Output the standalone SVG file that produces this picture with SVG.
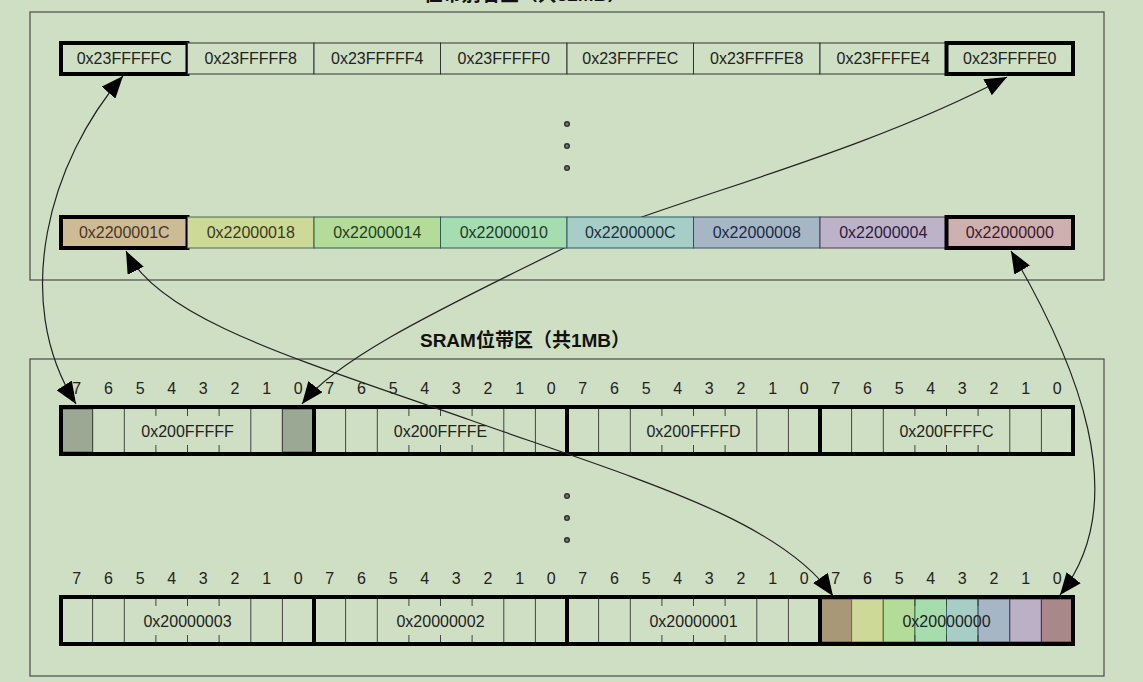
<svg xmlns="http://www.w3.org/2000/svg" width="1143" height="682" viewBox="0 0 1143 682">
<defs>
<style>
.bg{fill:#cfdfc4}
.cluster{fill:#cfdfc4;stroke:#4a4a4a;stroke-width:1.2}
.title{font-family:"Liberation Sans","Noto Sans CJK SC",sans-serif;font-size:19px;font-weight:bold;fill:#111;text-anchor:middle}
.lbl{font-family:"Liberation Sans",Arial,sans-serif;font-size:16px;fill:#222;text-anchor:middle}
.cell{fill:#cfdfc4;stroke:#333;stroke-width:1}
.thick{fill:none;stroke:#000;stroke-width:4}
.bitline{stroke:#444;stroke-width:1}
.edge{fill:none;stroke:#222;stroke-width:1.2}
.dot{fill:#777;stroke:#333;stroke-width:1.5}
</style>
<marker id="ah" markerUnits="userSpaceOnUse" markerWidth="22" markerHeight="18" refX="22" refY="9" orient="auto-start-reverse">
<path d="M0,0 L22,9 L0,18 z" fill="#000"/>
</marker>
</defs>
<rect class="bg" x="0" y="0" width="1143" height="682"/>

<g id="cluster-alias">
<rect class="cluster" x="30" y="12" width="1074" height="268"/>
<text class="title" x="525" y="1">位带别名区（共32MB）</text>
</g>
<g id="cluster-sram">
<rect class="cluster" x="30" y="359" width="1074" height="317"/>
<text class="title" x="525" y="347">SRAM位带区（共1MB）</text>
</g>

<g id="dots-top">
<circle class="dot" cx="567" cy="124" r="2.3"/>
<circle class="dot" cx="567" cy="146" r="2.3"/>
<circle class="dot" cx="567" cy="168" r="2.3"/>
</g>
<g id="dots-bottom">
<circle class="dot" cx="567" cy="496" r="2.3"/>
<circle class="dot" cx="567" cy="518" r="2.3"/>
<circle class="dot" cx="567" cy="540" r="2.3"/>
</g>

<!-- SRAM row 1 -->
<g id="bits-row1-labels" class="lbl">
<text x="76.8 108.4 140.1 171.7 203.3 234.9 266.6 298.2" y="394">76543210</text>
<text x="329.8 361.4 393.1 424.7 456.3 487.9 519.6 551.2" y="394">76543210</text>
<text x="582.8 614.4 646.1 677.7 709.3 740.9 772.6 804.2" y="394">76543210</text>
<text x="835.8 867.4 899.1 930.7 962.3 993.9 1025.6 1057.2" y="394">76543210</text>
</g>
<g id="byte-200FFFFF">
<rect x="61" y="409" width="31.6" height="43" fill="#9ba894" stroke="#555" stroke-width="1"/>
<rect x="282.4" y="409" width="31.6" height="43" fill="#9ba894" stroke="#555" stroke-width="1"/>
<path class="bitline" d="M92.6,409V452M124.3,409V452M250.8,409V452M282.4,409V452M155.9,409V416M187.5,409V416M219.1,409V416M155.9,445V452M187.5,445V452M219.1,445V452"/>
<text class="lbl" x="187.5" y="437">0x200FFFFF</text>
</g>
<g id="byte-200FFFFE">
<path class="bitline" d="M345.6,409V452M377.3,409V452M503.8,409V452M535.4,409V452M408.9,409V416M440.5,409V416M472.1,409V416M408.9,445V452M440.5,445V452M472.1,445V452"/>
<text class="lbl" x="440.5" y="437">0x200FFFFE</text>
</g>
<g id="byte-200FFFFD">
<path class="bitline" d="M598.6,409V452M630.3,409V452M756.8,409V452M788.4,409V452M661.9,409V416M693.5,409V416M725.1,409V416M661.9,445V452M693.5,445V452M725.1,445V452"/>
<text class="lbl" x="693.5" y="437">0x200FFFFD</text>
</g>
<g id="byte-200FFFFC">
<path class="bitline" d="M851.6,409V452M883.3,409V452M1009.8,409V452M1041.4,409V452M914.9,409V416M946.5,409V416M978.1,409V416M914.9,445V452M946.5,445V452M978.1,445V452"/>
<text class="lbl" x="946.5" y="437">0x200FFFFC</text>
</g>
<g id="row1-frame">
<rect class="thick" x="61" y="407" width="1012" height="47"/>
<path class="thick" d="M314,407V454M567,407V454M820,407V454"/>
</g>

<!-- SRAM row 2 -->
<g id="bits-row2-labels" class="lbl">
<text x="76.8 108.4 140.1 171.7 203.3 234.9 266.6 298.2" y="584">76543210</text>
<text x="329.8 361.4 393.1 424.7 456.3 487.9 519.6 551.2" y="584">76543210</text>
<text x="582.8 614.4 646.1 677.7 709.3 740.9 772.6 804.2" y="584">76543210</text>
<text x="835.8 867.4 899.1 930.7 962.3 993.9 1025.6 1057.2" y="584">76543210</text>
</g>
<g id="byte-20000003">
<path class="bitline" d="M92.6,599V642M124.3,599V642M250.8,599V642M282.4,599V642M155.9,599V606M187.5,599V606M219.1,599V606M155.9,635V642M187.5,635V642M219.1,635V642"/>
<text class="lbl" x="187.5" y="627">0x20000003</text>
</g>
<g id="byte-20000002">
<path class="bitline" d="M345.6,599V642M377.3,599V642M503.8,599V642M535.4,599V642M408.9,599V606M440.5,599V606M472.1,599V606M408.9,635V642M440.5,635V642M472.1,635V642"/>
<text class="lbl" x="440.5" y="627">0x20000002</text>
</g>
<g id="byte-20000001">
<path class="bitline" d="M598.6,599V642M630.3,599V642M756.8,599V642M788.4,599V642M661.9,599V606M693.5,599V606M725.1,599V606M661.9,635V642M693.5,635V642M725.1,635V642"/>
<text class="lbl" x="693.5" y="627">0x20000001</text>
</g>
<g id="byte-20000000">
<rect x="820" y="599" width="31.6" height="43" fill="#a89878" stroke="#5a4a30" stroke-width="1"/>
<rect x="851.6" y="599" width="31.6" height="43" fill="#cdd996" stroke="#6a7040" stroke-width="1"/>
<rect x="883.3" y="599" width="31.6" height="43" fill="#b3dc98" stroke="#4a7040" stroke-width="1"/>
<rect x="914.9" y="599" width="31.6" height="43" fill="#a6ddac" stroke="#3a6a4a" stroke-width="1"/>
<rect x="946.5" y="599" width="31.6" height="43" fill="#a6cec4" stroke="#3a6060" stroke-width="1"/>
<rect x="978.1" y="599" width="31.6" height="43" fill="#a6b6c4" stroke="#3a4a6a" stroke-width="1"/>
<rect x="1009.8" y="599" width="31.6" height="43" fill="#bbb0c6" stroke="#4a3a6a" stroke-width="1"/>
<rect x="1041.4" y="599" width="31.6" height="43" fill="#a88888" stroke="#5a2a3a" stroke-width="1"/>
<path class="bitline" d="M914.9,599V606M946.5,599V606M978.1,599V606M914.9,635V642M946.5,635V642M978.1,635V642"/>
<text class="lbl" x="946.5" y="627">0x20000000</text>
</g>
<g id="row2-frame">
<rect class="thick" x="61" y="597" width="1012" height="47"/>
<path class="thick" d="M314,597V644M567,597V644M820,597V644"/>
</g>

<!-- connectors -->
<g id="connectors">
<path class="edge" marker-start="url(#ah)" marker-end="url(#ah)" d="M123,76 C50,160 10,300 76,404"/>
<path class="edge" marker-start="url(#ah)" marker-end="url(#ah)" d="M1007,77 C850,160 650,205 560,250 C460,300 340,355 302,404"/>
<path class="edge" marker-start="url(#ah)" marker-end="url(#ah)" d="M126,251 C160,320 300,360 470,420 C640,480 780,520 833,596"/>
<path class="edge" marker-start="url(#ah)" marker-end="url(#ah)" d="M1011,251 C1075,360 1135,500 1060,595"/>
</g>

<!-- alias top row -->
<g id="n-23FFFFFC"><rect class="cell" x="61" y="43" width="126.5" height="31"/><rect class="thick" x="61" y="43" width="126.5" height="31"/><text class="lbl" x="124.25" y="64">0x23FFFFFC</text></g>
<g id="n-23FFFFF8"><rect class="cell" x="187.5" y="43" width="126.5" height="31"/><text class="lbl" x="250.75" y="64">0x23FFFFF8</text></g>
<g id="n-23FFFFF4"><rect class="cell" x="314" y="43" width="126.5" height="31"/><text class="lbl" x="377.25" y="64">0x23FFFFF4</text></g>
<g id="n-23FFFFF0"><rect class="cell" x="440.5" y="43" width="126.5" height="31"/><text class="lbl" x="503.75" y="64">0x23FFFFF0</text></g>
<g id="n-23FFFFEC"><rect class="cell" x="567" y="43" width="126.5" height="31"/><text class="lbl" x="630.25" y="64">0x23FFFFEC</text></g>
<g id="n-23FFFFE8"><rect class="cell" x="693.5" y="43" width="126.5" height="31"/><text class="lbl" x="756.75" y="64">0x23FFFFE8</text></g>
<g id="n-23FFFFE4"><rect class="cell" x="820" y="43" width="126.5" height="31"/><text class="lbl" x="883.25" y="64">0x23FFFFE4</text></g>
<g id="n-23FFFFE0"><rect class="cell" x="946.5" y="43" width="126.5" height="31"/><rect class="thick" x="946.5" y="43" width="126.5" height="31"/><text class="lbl" x="1009.75" y="64">0x23FFFFE0</text></g>

<!-- alias bottom row -->
<g id="n-2200001C"><rect x="61" y="217" width="126.5" height="31" fill="#cdbb96"/><rect class="thick" x="61" y="217" width="126.5" height="31"/><text class="lbl" x="124.25" y="238" style="fill:#4a3520">0x2200001C</text></g>
<g id="n-22000018"><rect x="187.5" y="217" width="126.5" height="31" fill="#cdd996" stroke="#4a6a50" stroke-width="1"/><text class="lbl" x="250.75" y="238" style="fill:#3a3a1a">0x22000018</text></g>
<g id="n-22000014"><rect x="314" y="217" width="126.5" height="31" fill="#b3dc98" stroke="#2f5a4a" stroke-width="1"/><text class="lbl" x="377.25" y="238" style="fill:#1f3f1f">0x22000014</text></g>
<g id="n-22000010"><rect x="440.5" y="217" width="126.5" height="31" fill="#a6ddb0" stroke="#2f5a5a" stroke-width="1"/><text class="lbl" x="503.75" y="238" style="fill:#1a3a2a">0x22000010</text></g>
<g id="n-2200000C"><rect x="567" y="217" width="126.5" height="31" fill="#a6cec6" stroke="#2f5a6a" stroke-width="1"/><text class="lbl" x="630.25" y="238" style="fill:#1a3040">0x2200000C</text></g>
<g id="n-22000008"><rect x="693.5" y="217" width="126.5" height="31" fill="#a6b6c4" stroke="#3a4a6a" stroke-width="1"/><text class="lbl" x="756.75" y="238" style="fill:#1a2a48">0x22000008</text></g>
<g id="n-22000004"><rect x="820" y="217" width="126.5" height="31" fill="#bdb3c8" stroke="#4a3a5a" stroke-width="1"/><text class="lbl" x="883.25" y="238" style="fill:#2a1a40">0x22000004</text></g>
<g id="n-22000000"><rect x="946.5" y="217" width="126.5" height="31" fill="#cfb0b0"/><rect class="thick" x="946.5" y="217" width="126.5" height="31"/><text class="lbl" x="1009.75" y="238" style="fill:#3a1a2a">0x22000000</text></g>
</svg>
